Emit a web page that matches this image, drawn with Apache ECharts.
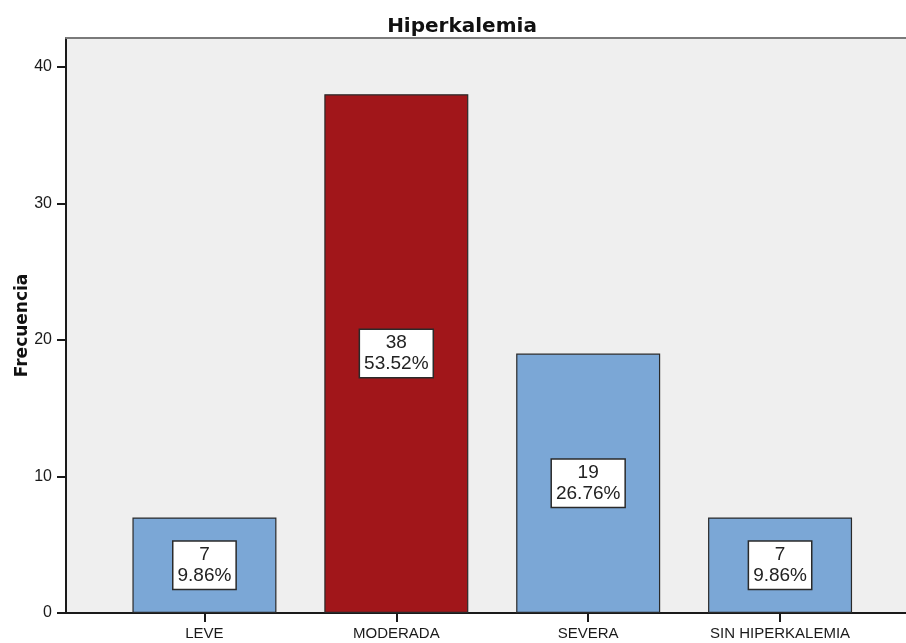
<!DOCTYPE html>
<html>
<head>
<meta charset="utf-8">
<script src="https://cdn.jsdelivr.net/npm/echarts@6/dist/echarts.min.js"></script>
<style>
  html, body { margin: 0; padding: 0; background: #ffffff; }
  #chart { width: 906px; height: 643px; }
</style>
</head>
<body>
<div id="chart"></div>
<script>
// Hiperkalemia frequency by category
const categories = ['LEVE', 'MODERADA', 'SEVERA', 'SIN HIPERKALEMIA'];
const frequencies = [7, 38, 19, 7];
const barColors = ['#7ba7d6', '#a1161a', '#7ba7d6', '#7ba7d6'];
const yTicks = [0, 10, 20, 30, 40];

const total = frequencies.reduce((a, b) => a + b, 0);
const percents = frequencies.map(v => (v / total * 100).toFixed(2) + '%');

const Y_MAX = 42.12;
const sansArial = '"Liberation Sans", Arial, sans-serif';

const chart = echarts.init(document.getElementById('chart'), null, { renderer: 'canvas' });

chart.setOption({
  backgroundColor: '#ffffff',
  animation: false,
  title: {
    text: 'Hiperkalemia',
    left: 457,
    textAlign: 'center',
    top: 12,
    textStyle: { fontFamily: '"DejaVu Sans", sans-serif', fontWeight: 'bold', fontSize: 20, color: '#111' }
  },
  grid: [
    // frame with background and frequency axis
    { left: 66, right: 0, top: 38, bottom: 30, show: true, backgroundColor: '#efefef', borderWidth: 0,
      outerBoundsMode: 'none', containLabel: false },
    // band holding the bars
    { left: 108.5, right: 30, top: 38, bottom: 30, outerBoundsMode: 'none', containLabel: false }
  ],
  xAxis: [
    { gridIndex: 0, type: 'value', min: 0, max: 1, position: 'bottom',
      axisLine: { show: true, lineStyle: { color: '#1a1a1a', width: 2 } },
      axisTick: { show: false }, axisLabel: { show: false }, splitLine: { show: false } },
    { gridIndex: 0, type: 'value', min: 0, max: 1, position: 'top',
      axisLine: { show: true, lineStyle: { color: '#7a7a7a', width: 2 } },
      axisTick: { show: false }, axisLabel: { show: false }, splitLine: { show: false } },
    { gridIndex: 1, type: 'category', data: categories, position: 'bottom',
      axisLine: { show: false },
      axisTick: { show: true, alignWithLabel: true, length: 9, lineStyle: { color: '#1a1a1a', width: 2 } },
      axisLabel: { fontFamily: sansArial, fontSize: 15, color: '#1a1a1a', margin: 13, interval: 0 },
      splitLine: { show: false } }
  ],
  yAxis: [
    { gridIndex: 0, type: 'value', min: 0, max: Y_MAX,
      axisLine: { show: true, lineStyle: { color: '#1a1a1a', width: 2 } },
      axisTick: { show: true, length: 9, customValues: yTicks, lineStyle: { color: '#1a1a1a', width: 2 } },
      axisLabel: {
        fontFamily: sansArial, fontSize: 16, color: '#1a1a1a', margin: 14,
        customValues: yTicks
      },
      splitLine: { show: false },
      name: 'Frecuencia',
      nameLocation: 'middle',
      nameGap: 35,
      nameMoveOverlap: false,
      nameTextStyle: { fontFamily: '"DejaVu Sans", sans-serif', fontWeight: 'bold', fontSize: 17, color: '#111' }
    },
    { gridIndex: 1, type: 'value', min: 0, max: Y_MAX, show: false }
  ],
  series: [{
    type: 'bar',
    xAxisIndex: 2,
    yAxisIndex: 1,
    barWidth: 144,
    data: frequencies.map((v, i) => ({
      value: v,
      itemStyle: { color: barColors[i], borderColor: '#2a2a2a', borderWidth: 1.2 }
    })),
    label: {
      show: true,
      position: 'inside',
      formatter: p => p.value + '\n' + percents[p.dataIndex],
      fontFamily: sansArial,
      fontSize: 19,
      lineHeight: 21,
      color: '#222',
      align: 'center',
      backgroundColor: '#ffffff',
      borderColor: '#2a2a2a',
      borderWidth: 1.5,
      padding: [3, 4, 2, 4]
    }
  }]
});
</script>
</body>
</html>
